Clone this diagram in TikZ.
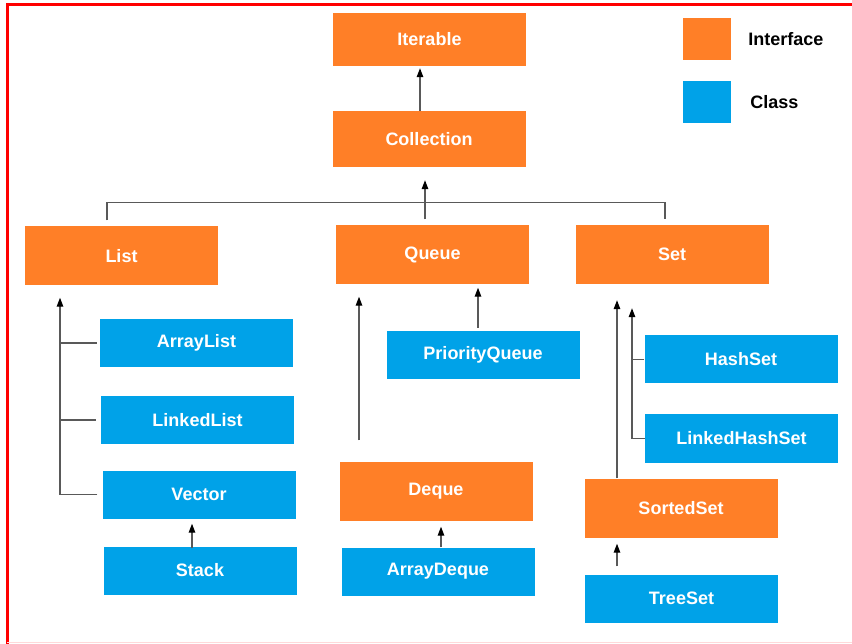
\documentclass[tikz,border=0pt]{standalone}
\usepackage{fontspec}
\setmainfont{Liberation Sans}
\usetikzlibrary{arrows.meta,positioning}

\definecolor{ifaceorange}{HTML}{FF7F27}
\definecolor{classblue}{HTML}{00A2E8}

\tikzset{
    box/.style={minimum width=193pt, minimum height=48pt, inner sep=0pt,
        text=white, font=\fontsize{18}{20}\selectfont\bfseries},
    iface/.style={box, fill=ifaceorange, minimum height=59pt},
    cls/.style={box, fill=classblue},
    keybox/.style={minimum width=48pt, minimum height=42pt, inner sep=0pt},
    keytext/.style={font=\fontsize{18}{20}\selectfont\bfseries, inner sep=0pt},
    link/.style={draw=black!65, line width=1.3pt},
    arr/.style={link, -{Triangle[length=9pt,width=6.5pt,color=black]}},
}

\begin{document}
\begin{tikzpicture}[x=1pt,y=-1pt]
        \useasboundingbox (0,0) rectangle (852,644);
        \draw[red, line width=3pt] (7,644) -- (7,4.5) -- (852,4.5);
        \draw[red!15, line width=1pt] (7,642) -- (852,642);

        % interfaces
        \node[iface, minimum height=53pt] (iterable) at (429.5,39.5) {Iterable};
        \node[iface, minimum height=56pt] (collection) at (429,139) {Collection};
        \node[iface] (list) at (121.5,256) {List};
        \node[iface] (queue) at (432.5,255) {Queue};
        \node[iface] (set) at (672,254.5) {Set};
        \node[iface] (deque) at (436,491) {Deque};
        \node[iface] (sortedset) at (681,508) {SortedSet};

        % classes
        \node[cls] (arraylist) at (196.5,343) {ArrayList};
        \node[cls] (linkedlist) at (197.5,420) {LinkedList};
        \node[cls] (vector) at (199,494.5) {Vector};
        \node[cls] (stack) at (200,570.5) {Stack};
        \node[cls] (priorityqueue) at (483,355) {PriorityQueue};
        \node[cls] (arraydeque) at (438,571.5) {ArrayDeque};
        \node[cls] (hashset) at (741,359.5) {HashSet};
        \node[cls] (linkedhashset) at (741.5,438.5) {LinkedHashSet};
        \node[cls] (treeset) at (681.5,598.5) {TreeSet};

        % legend
        \node[keybox, fill=ifaceorange] (keyiface) at (707,39) {};
        \node[keybox, fill=classblue] (keyclass) at (707,102) {};
        \node[keytext, right=17pt of keyiface] (ifacelabel) {Interface};
        \node[keytext, right=19pt of keyclass] (classlabel) {Class};

        % collection -> iterable
        \coordinate (colltop) at ([xshift=-9pt]collection.north);
        \draw[arr, shorten >=2pt] (colltop) -- (colltop |- iterable.south);

        % list, queue, set -> collection
        \coordinate (listtop) at ([xshift=-14.5pt,yshift=6pt]list.north);
        \coordinate (settop) at ([xshift=-7pt,yshift=6pt]set.north);
        \coordinate (queuetop) at ([xshift=-7.5pt,yshift=6pt]queue.north);
        \draw[link] (listtop) -- ++(0,-18) -| (settop);
        \draw[arr, shorten >=13pt] (queuetop) -- (queuetop |- collection.south);

        % list branch
        \coordinate (listfoot) at ([xshift=-61.5pt]list.south);
        \draw[arr, shorten >=12pt] ([xshift=-5pt]vector.west) -| (listfoot);
        \draw[link] ([xshift=-3pt]arraylist.west) -- (arraylist.west -| listfoot);
        \draw[link] ([xshift=-5pt]linkedlist.west) -- (linkedlist.west -| listfoot);
        \coordinate (stacktop) at ([xshift=-8pt,yshift=-2pt]stack.north);
        \draw[arr, shorten >=5pt] (stacktop) -- (stacktop |- vector.south);

        % queue branch
        \coordinate (dequetop) at ([xshift=-77pt,yshift=21pt]deque.north);
        \draw[arr, shorten >=12pt] (dequetop) -- (dequetop |- queue.south);
        \coordinate (pqtop) at ([xshift=-5pt,yshift=3pt]priorityqueue.north);
        \draw[arr, shorten >=3pt] (pqtop) -- (pqtop |- queue.south);
        \coordinate (adtop) at ([xshift=3pt]arraydeque.north);
        \draw[arr, shorten >=6pt] (adtop) -- (adtop |- deque.south);

        % set branch
        \coordinate (sstop) at ([xshift=-64pt]sortedset.north);
        \draw[arr, shorten >=16pt] (sstop) -- (sstop |- set.south);
        \coordinate (setfoot) at ([xshift=-40pt]set.south);
        \draw[arr, shorten >=24pt] (linkedhashset.west) -| (setfoot);
        \draw[link] (hashset.west) -- (hashset.west -| setfoot);
        \coordinate (tstop) at ([xshift=-64.5pt,yshift=8pt]treeset.north);
        \draw[arr, shorten >=6pt] (tstop) -- (tstop |- sortedset.south);
\end{tikzpicture}
\end{document}
